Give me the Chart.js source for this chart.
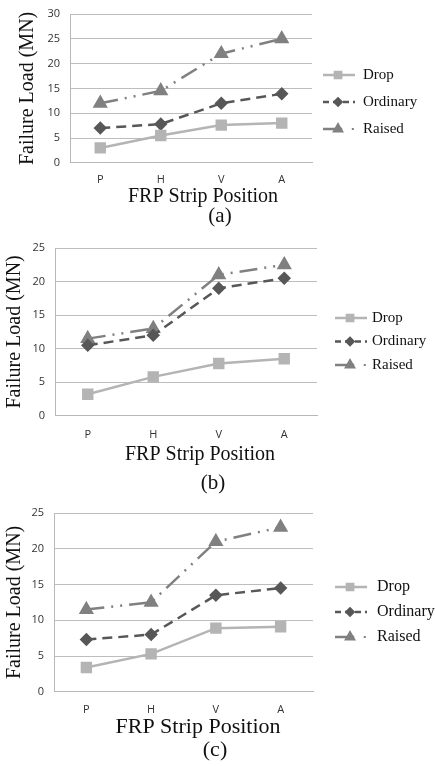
<!DOCTYPE html>
<html>
<head>
<meta charset="utf-8">
<script src="https://cdn.jsdelivr.net/npm/chart.js@4"></script>
<style>
  body { margin: 0; background: #fff; width: 435px; height: 766px; position: relative; overflow: hidden; }
  .box { position: absolute; left: 0; width: 435px; }
</style>
</head>
<body>
<div class="box" style="top:0;height:236px"><canvas id="chartA"></canvas></div>
<div class="box" style="top:236px;height:260px"><canvas id="chartB"></canvas></div>
<div class="box" style="top:496px;height:270px"><canvas id="chartC"></canvas></div>
<script>
const categories = ["P", "H", "V", "A"];
const seriesNames = ["Drop", "Ordinary", "Raised"];
const yTicksA = [0, 5, 10, 15, 20, 25, 30];
const yTicksBC = [0, 5, 10, 15, 20, 25];

// (a)
const dropA = [3, 5.5, 7.6, 8];
const ordinaryA = [7, 7.8, 12, 13.9];
const raisedA = [12, 14.5, 22, 25];
// (b)
const dropB = [3.2, 5.8, 7.8, 8.5];
const ordinaryB = [10.5, 12, 19, 20.5];
const raisedB = [11.5, 13, 21, 22.5];
// (c)
const dropC = [3.4, 5.3, 8.9, 9.1];
const ordinaryC = [7.3, 8, 13.5, 14.5];
const raisedC = [11.5, 12.5, 21, 23];

const serif = "'Liberation Serif', 'Times New Roman', serif";
const sans = "'Open Sans', 'Liberation Sans', sans-serif";

// Excel-like legend + x title and caption placed like the figure
const figureText = {
  id: "figureText",
  afterDraw(chart, args, opts) {
    const ctx = chart.ctx;
    const lg = opts.legend;
    chart.data.datasets.forEach((ds, i) => {
      const y = lg.top + i * lg.gap;
      ctx.save();
      ctx.strokeStyle = ds.borderColor;
      ctx.lineWidth = ds.borderWidth;
      ctx.beginPath();
      if (ds.label === "Raised") {
        // dash, marker, dot
        ctx.moveTo(lg.left, y);
        ctx.lineTo(lg.left + lg.len * 0.6, y);
        ctx.stroke();
        ctx.fillStyle = ds.borderColor;
        ctx.fillRect(lg.left + lg.len * 0.9, y - 1, 2, 2);
      } else {
        ctx.setLineDash(ds.label === "Ordinary" ? [6, 4] : []);
        ctx.moveTo(lg.left, y);
        ctx.lineTo(lg.left + lg.len, y);
        ctx.stroke();
      }
      ctx.setLineDash([]);
      ctx.fillStyle = ds.pointBackgroundColor;
      ctx.strokeStyle = ds.pointBorderColor;
      Chart.helpers.drawPoint(ctx, { pointStyle: ds.pointStyle, radius: ds.pointRadius * 0.7, borderWidth: 1, rotation: 0 },
        lg.left + lg.len * 0.47, y);
      ctx.fillStyle = "#111";
      ctx.font = lg.fontSize + "px " + serif;
      ctx.textBaseline = "middle";
      ctx.textAlign = "left";
      ctx.fillText(ds.label, lg.textX, y);
      ctx.restore();
    });
    ctx.save();
    ctx.fillStyle = "#111";
    ctx.textAlign = "center";
    ctx.textBaseline = "middle";
    ctx.font = opts.xTitle.size + "px " + serif;
    ctx.fillText("FRP Strip Position", opts.xTitle.x, opts.xTitle.y);
    ctx.font = opts.caption.size + "px " + serif;
    ctx.fillText(opts.caption.text, opts.caption.x, opts.caption.y);
    ctx.restore();
  }
};

function makeChart(id, drop, ordinary, raised, yTicks, lay) {
  const yMax = yTicks[yTicks.length - 1];
  return new Chart(document.getElementById(id), {
    type: "line",
    data: {
      labels: categories,
      datasets: [
        { label: seriesNames[0], data: drop, borderColor: "#b4b4b4", borderWidth: 2.5,
          pointStyle: "rect", pointRadius: 6.3, pointBackgroundColor: "#b4b4b4", pointBorderColor: "#b4b4b4" },
        { label: seriesNames[1], data: ordinary, borderColor: "#575757", borderWidth: 2.5, borderDash: [10, 6],
          pointStyle: "rectRot", pointRadius: 5, pointBackgroundColor: "#575757", pointBorderColor: "#575757" },
        { label: seriesNames[2], data: raised, borderColor: "#808080", borderWidth: 2.5, borderDash: [18, 7, 2, 7, 2, 7],
          pointStyle: "triangle", pointRadius: 6.3, pointBackgroundColor: "#808080", pointBorderColor: "#808080" }
      ]
    },
    options: {
      responsive: true,
      maintainAspectRatio: false,
      animation: false,
      layout: { padding: lay.padding },
      plugins: {
        legend: { display: false },
        tooltip: { enabled: false },
        figureText: lay.text
      },
      scales: {
        x: {
          offset: true,
          grid: { display: false, drawTicks: false },
          border: { display: true, color: "#b8b8b8" },
          ticks: { color: "#333", font: { family: sans, size: 11 }, padding: lay.xTickPad }
        },
        y: {
          min: 0, max: yMax,
          afterBuildTicks: (s) => { s.ticks = yTicks.map(v => ({ value: v })); },
          afterFit: (s) => { s.width = lay.yWidth; s.paddingTop = 0; },
          grid: { color: "#bdbdbd", drawTicks: false },
          border: { display: true, color: "#b8b8b8" },
          ticks: { color: "#333", font: { family: sans, size: 11 }, padding: lay.yTickPad },
          title: { display: true, text: "Failure Load (MN)", color: "#111",
            font: { family: serif, size: 20 }, padding: lay.yTitlePad }
        }
      }
    },
    plugins: [figureText]
  });
}

makeChart("chartA", dropA, ordinaryA, raisedA, yTicksA, {
  padding: { top: 14, right: 123, left: 0, bottom: 40 },
  yWidth: 70, yTickPad: 10, yTitlePad: { top: 16, bottom: 0 },
  xTickPad: 10,
  text: {
    legend: { left: 323, top: 75, gap: 27, len: 32, textX: 363, fontSize: 15 },
    xTitle: { x: 203, y: 197, size: 20 },
    caption: { text: "(a)", x: 220, y: 216, size: 21 }
  }
});

makeChart("chartB", dropB, ordinaryB, raisedB, yTicksBC, {
  padding: { top: 12, right: 118, left: 0, bottom: 43 },
  yWidth: 55, yTickPad: 10, yTitlePad: { top: 3, bottom: 0 },
  xTickPad: 12,
  text: {
    legend: { left: 335, top: 82, gap: 23.5, len: 32, textX: 372, fontSize: 15 },
    xTitle: { x: 200, y: 219, size: 20 },
    caption: { text: "(b)", x: 213, y: 247, size: 21 }
  }
});

makeChart("chartC", dropC, ordinaryC, raisedC, yTicksBC, {
  padding: { top: 17, right: 122, left: 0, bottom: 39 },
  yWidth: 54, yTickPad: 10, yTitlePad: { top: 3, bottom: 0 },
  xTickPad: 11,
  text: {
    legend: { left: 335, top: 91, gap: 25, len: 32, textX: 377, fontSize: 16 },
    xTitle: { x: 198, y: 231, size: 22 },
    caption: { text: "(c)", x: 215, y: 254, size: 22 }
  }
});
</script>
</body>
</html>
